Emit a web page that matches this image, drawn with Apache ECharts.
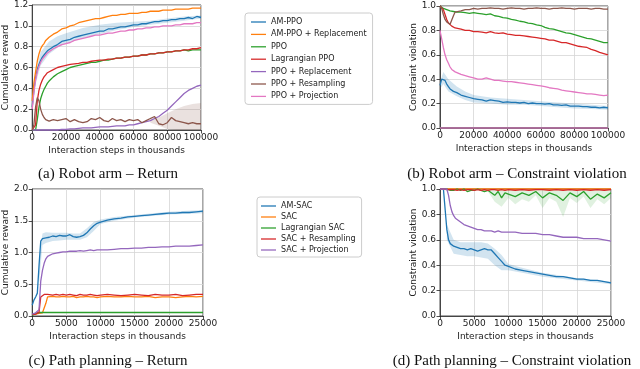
<!DOCTYPE html>
<html>
<head>
<meta charset="utf-8">
<script src="https://cdn.jsdelivr.net/npm/echarts@6/dist/echarts.min.js"></script>
<style>
  html, body { margin: 0; padding: 0; background: #fff; }
  #chart { width: 640px; height: 369px; }
</style>
</head>
<body>
<div id="chart"></div>
<script>
// Robot arm (PPO family): x in thousands of steps
const xsA = [0,1000,2000,3000,4000,5000,6000,7000,8000,9000,10000,12500,15000,17500,20000,22500,25000,27500,30000,32500,35000,37500,40000,42500,45000,47500,50000,52500,55000,57500,60000,62500,65000,67500,70000,72500,75000,77500,80000,82500,85000,87500,90000,92500,95000,97500,100000];
const flatXA = [0, 100000];

// (a) return
const armRetAmPpo     = [0.22,0.38,0.50,0.58,0.63,0.67,0.70,0.72,0.74,0.76,0.77,0.80,0.82,0.85,0.86,0.87,0.89,0.90,0.91,0.92,0.93,0.94,0.95,0.95,0.97,0.97,0.98,0.99,0.99,1.00,1.01,1.01,1.02,1.02,1.03,1.04,1.04,1.05,1.05,1.06,1.06,1.07,1.07,1.08,1.07,1.09,1.08];
const armRetAmPpoRepl = [0.28,0.45,0.56,0.66,0.73,0.78,0.81,0.83,0.86,0.87,0.89,0.92,0.94,0.97,0.98,1.00,1.01,1.03,1.04,1.05,1.06,1.07,1.07,1.08,1.09,1.10,1.10,1.11,1.11,1.12,1.12,1.12,1.13,1.13,1.14,1.14,1.14,1.15,1.15,1.15,1.16,1.16,1.16,1.16,1.17,1.17,1.17];
const armRetPpo       = [0,0,0,0.10,0.22,0.30,0.35,0.39,0.42,0.45,0.47,0.51,0.54,0.56,0.58,0.60,0.61,0.62,0.63,0.64,0.65,0.65,0.66,0.67,0.67,0.68,0.69,0.69,0.70,0.70,0.71,0.71,0.72,0.72,0.73,0.73,0.74,0.74,0.75,0.75,0.76,0.76,0.77,0.76,0.77,0.77,0.77];
const armRetLag       = [0,0,0.05,0.28,0.38,0.44,0.48,0.51,0.53,0.55,0.56,0.58,0.60,0.61,0.62,0.63,0.635,0.64,0.65,0.65,0.66,0.665,0.67,0.67,0.68,0.68,0.69,0.69,0.70,0.70,0.71,0.71,0.72,0.72,0.73,0.73,0.74,0.74,0.75,0.75,0.76,0.76,0.77,0.77,0.78,0.78,0.79];
const armRetRepl      = [0,0,0,0,0,0,0,0,0,0,0,0,0,0.005,0.005,0.01,0.01,0.015,0.02,0.02,0.02,0.025,0.03,0.03,0.03,0.035,0.04,0.04,0.04,0.05,0.05,0.06,0.07,0.08,0.09,0.11,0.13,0.16,0.19,0.23,0.27,0.31,0.35,0.38,0.40,0.42,0.43];
const armRetResamp    = [0,0.05,0.22,0.31,0.28,0.20,0.15,0.12,0.10,0.09,0.085,0.10,0.09,0.10,0.11,0.08,0.10,0.08,0.07,0.08,0.11,0.10,0.12,0.09,0.08,0.11,0.09,0.10,0.08,0.10,0.09,0.10,0.07,0.09,0.11,0.13,0.06,0.05,0.07,0.12,0.09,0.08,0.07,0.06,0.07,0.06,0.06];
const armRetProj      = [0.20,0.36,0.48,0.56,0.61,0.65,0.68,0.70,0.72,0.74,0.75,0.78,0.80,0.82,0.83,0.84,0.86,0.87,0.88,0.89,0.90,0.91,0.91,0.92,0.93,0.93,0.94,0.95,0.95,0.96,0.96,0.97,0.97,0.98,0.98,0.99,0.99,1.00,1.00,1.00,1.01,1.01,1.02,1.02,1.02,1.03,1.03];

const armRetBandX  = [2000,5000,10000,15000,20000,30000,40000,50000,60000,70000,80000,90000,100000];
const armRetBandLo = [0.44,0.62,0.73,0.79,0.83,0.88,0.92,0.96,0.99,1.01,1.03,1.05,1.07];
const armRetBandHi = [0.55,0.75,0.85,0.90,0.93,0.98,1.01,1.03,1.04,1.05,1.07,1.09,1.10];
const resampBandX  = [70000,75000,80000,85000,90000,95000,100000];
const resampBandLo = [0.07,0.04,0.01,0,0,0,0];
const resampBandHi = [0.12,0.12,0.16,0.20,0.23,0.25,0.26];

// (b) constraint violation
const armVioAmPpo   = [0.35,0.40,0.41,0.39,0.36,0.34,0.32,0.31,0.30,0.30,0.29,0.27,0.26,0.25,0.24,0.235,0.23,0.22,0.23,0.225,0.22,0.21,0.215,0.21,0.21,0.205,0.21,0.20,0.205,0.20,0.20,0.195,0.20,0.19,0.19,0.185,0.19,0.18,0.18,0.18,0.175,0.175,0.17,0.17,0.165,0.17,0.165];
const armVioZero    = [0, 0];
const armVioPpo     = [1.0,0.99,0.98,0.97,0.97,0.96,0.96,0.96,0.955,0.95,0.95,0.95,0.945,0.94,0.945,0.94,0.935,0.93,0.935,0.92,0.915,0.905,0.90,0.89,0.885,0.875,0.87,0.86,0.855,0.845,0.84,0.825,0.815,0.81,0.80,0.79,0.78,0.775,0.765,0.755,0.745,0.735,0.73,0.72,0.71,0.70,0.70];
const armVioLag     = [1.0,0.99,0.97,0.93,0.89,0.86,0.845,0.835,0.83,0.82,0.82,0.81,0.80,0.80,0.79,0.79,0.785,0.78,0.79,0.78,0.775,0.78,0.77,0.765,0.76,0.76,0.755,0.75,0.745,0.74,0.735,0.73,0.72,0.72,0.71,0.70,0.70,0.69,0.68,0.67,0.665,0.66,0.645,0.635,0.62,0.61,0.60];
const armVioResamp  = [1.0,0.98,0.93,0.89,0.87,0.86,0.85,0.86,0.92,0.95,0.96,0.96,0.97,0.97,0.98,0.975,0.98,0.98,0.985,0.98,0.98,0.975,0.98,0.985,0.98,0.98,0.975,0.98,0.98,0.985,0.98,0.98,0.975,0.98,0.98,0.985,0.98,0.98,0.975,0.98,0.98,0.98,0.975,0.98,0.98,0.975,0.975];
const armVioProj    = [0.80,0.73,0.66,0.60,0.56,0.53,0.50,0.48,0.47,0.46,0.46,0.44,0.43,0.42,0.41,0.40,0.40,0.41,0.40,0.39,0.39,0.385,0.38,0.38,0.375,0.37,0.365,0.36,0.355,0.35,0.345,0.34,0.33,0.325,0.32,0.31,0.305,0.30,0.295,0.29,0.285,0.28,0.28,0.275,0.27,0.265,0.27];

const armVioBandX  = [0,2000,5000,10000,15000,20000,30000,40000,50000,60000,70000,80000,90000,100000];
const armVioBandLo = [0.32,0.36,0.30,0.26,0.23,0.21,0.20,0.19,0.19,0.18,0.17,0.16,0.155,0.15];
const armVioBandHi = [0.38,0.46,0.40,0.34,0.30,0.27,0.25,0.24,0.23,0.22,0.21,0.20,0.19,0.18];

// Path planning (SAC family)
const xsC = [0,250,500,750,1000,1250,1500,1750,2000,2250,2500,3000,3500,4000,4500,5000,5500,6000,6500,7000,7500,8000,8500,9000,9500,10000,11000,12000,13000,14000,15000,16000,17000,18000,19000,20000,21000,22000,23000,24000,25000];
const flatXC = [0, 25000];

// (c) return
const pathRetAmSac  = [0.17,0.25,0.30,0.36,0.80,1.18,1.22,1.22,1.23,1.25,1.24,1.26,1.25,1.27,1.26,1.26,1.28,1.25,1.24,1.25,1.27,1.31,1.37,1.42,1.46,1.48,1.51,1.53,1.54,1.56,1.57,1.58,1.59,1.60,1.61,1.62,1.62,1.63,1.63,1.64,1.65];
const pathRetSac    = [0.02,0.03,0.03,0.04,0.04,0.05,0.05,0.05,0.20,0.30,0.30,0.31,0.30,0.30,0.31,0.30,0.30,0.31,0.29,0.30,0.30,0.31,0.30,0.30,0.29,0.30,0.31,0.30,0.30,0.31,0.30,0.30,0.31,0.29,0.30,0.30,0.29,0.30,0.31,0.30,0.31];
const pathRetLag    = [0.01,0.02,0.04,0.05,0.055,0.055,0.055,0.055,0.055,0.055,0.055,0.055,0.055,0.055,0.055,0.055,0.055,0.055,0.055,0.055,0.055,0.055,0.055,0.055,0.055,0.055,0.055,0.055,0.055,0.055,0.055,0.055,0.055,0.055,0.055,0.055,0.055,0.055,0.055,0.055,0.055];
const pathRetResamp = [0.02,0.03,0.03,0.04,0.06,0.30,0.33,0.34,0.33,0.34,0.34,0.33,0.34,0.33,0.34,0.33,0.34,0.33,0.32,0.34,0.33,0.33,0.34,0.33,0.32,0.33,0.34,0.33,0.32,0.33,0.34,0.33,0.32,0.34,0.33,0.33,0.34,0.32,0.33,0.34,0.34];
const pathRetProj   = [0.03,0.04,0.05,0.06,0.10,0.55,0.72,0.83,0.90,0.94,0.96,0.98,0.99,1.00,1.01,1.01,1.02,1.02,1.02,1.03,1.02,1.03,1.04,1.03,1.04,1.04,1.04,1.05,1.06,1.06,1.07,1.07,1.08,1.08,1.09,1.09,1.10,1.10,1.10,1.11,1.12];

const pathRetBandX  = [1000,1500,2000,3000,4000,5000,6000,7000,8000,9000,10000,12000,15000,20000,25000];
const pathRetBandLo = [0.50,1.12,1.15,1.18,1.19,1.20,1.20,1.20,1.24,1.34,1.45,1.50,1.55,1.60,1.62];
const pathRetBandHi = [0.90,1.30,1.32,1.31,1.31,1.31,1.30,1.30,1.38,1.48,1.52,1.56,1.59,1.64,1.67];

// (d) constraint violation
const pathVioAmSac  = [1.0,1.0,1.0,0.99,0.68,0.60,0.57,0.56,0.55,0.54,0.54,0.53,0.53,0.52,0.53,0.52,0.51,0.52,0.53,0.52,0.52,0.49,0.46,0.43,0.40,0.39,0.37,0.36,0.35,0.34,0.33,0.32,0.31,0.31,0.30,0.29,0.29,0.28,0.28,0.27,0.26];
const pathVioSac    = [1.0, 1.0];
const pathVioLag    = [1.0,1.0,1.0,1.0,1.0,1.0,0.99,1.0,0.99,1.0,1.0,0.99,1.0,0.98,0.99,0.99,1.0,0.99,0.98,0.99,0.97,0.95,0.98,0.93,0.97,0.96,0.94,0.97,0.95,0.98,0.93,0.97,0.95,0.91,0.97,0.94,0.98,0.92,0.96,0.93,0.97];
const pathVioResamp = [1.0,1.0,1.0,0.995,0.995,0.99,0.995,0.99,0.995,0.995,0.99,0.995,0.99,0.995,0.995,0.99,0.995,0.99,0.995,0.99,0.995,0.995,0.99,0.995,0.99,0.995,0.99,0.995,0.99,0.995,0.995,0.99,0.995,0.99,0.995,0.99,0.995,0.99,0.995,0.99,0.995];
const pathVioProj   = [1.0,1.0,1.0,1.0,1.0,0.95,0.87,0.82,0.79,0.77,0.76,0.74,0.72,0.71,0.70,0.69,0.68,0.68,0.67,0.67,0.67,0.66,0.67,0.66,0.66,0.66,0.66,0.65,0.65,0.65,0.64,0.64,0.63,0.62,0.62,0.62,0.61,0.61,0.61,0.60,0.59];

const pathVioBandX  = [1000,2000,3000,4000,5000,6000,7000,8000,9000,10000,12000,15000,20000,25000];
const pathVioBandLo = [0.60,0.49,0.48,0.47,0.47,0.46,0.45,0.40,0.36,0.36,0.34,0.31,0.28,0.25];
const pathVioBandHi = [0.72,0.60,0.58,0.58,0.58,0.58,0.57,0.53,0.48,0.41,0.38,0.34,0.30,0.27];
const lagBandX  = [7000,8000,9000,10000,11000,12000,13000,14000,15000,16000,17000,18000,19000,20000,21000,22000,23000,24000,25000];
const lagBandLo = [0.98,0.90,0.86,0.93,0.88,0.92,0.90,0.95,0.85,0.93,0.90,0.78,0.93,0.89,0.94,0.85,0.92,0.88,0.93];
const lagBandHi = [1,1,1,1,1,1,1,1,1,1,1,1,1,1,1,1,1,1,1];

const namesPpo = ['AM-PPO', 'AM-PPO + Replacement', 'PPO', 'Lagrangian PPO', 'PPO + Replacement', 'PPO + Resampling', 'PPO + Projection'];
const namesSac = ['AM-SAC', 'SAC', 'Lagrangian SAC', 'SAC + Resampling', 'SAC + Projection'];

// matplotlib tab10
const BLUE = '#1f77b4', ORANGE = '#ff7f0e', GREEN = '#2ca02c', RED = '#d62728',
      PURPLE = '#9467bd', BROWN = '#8c564b', PINK = '#e377c2';

const FONT = 'DejaVu Sans';
const INK = '#222';

function pairs(xs, ys) {
  return xs.map((x, i) => [x, ys[i]]);
}

function line(name, xs, ys, color, g) {
  return {
    name, type: 'line', xAxisIndex: g, yAxisIndex: g,
    data: pairs(xs, ys), symbol: 'none', showSymbol: false, clip: false, silent: true,
    lineStyle: { color, width: 1.3 }, itemStyle: { color }
  };
}

// shaded spread between lo and hi, drawn as a polygon through the axis scales
function band(xs, lo, hi, color, g, alpha) {
  return {
    type: 'custom', xAxisIndex: g, yAxisIndex: g, silent: true, clip: true,
    data: [[xs[0], lo[0]]],
    renderItem: (params, api) => {
      const top = xs.map((x, i) => api.coord([x, hi[i]]));
      const bot = xs.map((x, i) => api.coord([x, lo[i]])).reverse();
      return { type: 'polygon', shape: { points: top.concat(bot) },
               style: { fill: color, opacity: alpha } };
    }
  };
}

function xAx(g, max, step) {
  return {
    type: 'value', gridIndex: g, min: 0, max, interval: step,
    name: 'Interaction steps in thousands', nameLocation: 'middle', nameGap: 16,
    nameTextStyle: { fontSize: 9, fontFamily: FONT, color: INK },
    axisLine: { show: true, onZero: false, lineStyle: { color: INK, width: 0.8 } },
    axisTick: { show: true, length: 3.5, lineStyle: { color: INK, width: 0.8 } },
    axisLabel: { fontSize: 9, fontFamily: FONT, color: INK, margin: 3, formatter: v => String(v) },
    splitLine: { show: true, lineStyle: { color: '#d6d6d6', width: 0.8 } }
  };
}

function yAx(g, max, step, name) {
  return {
    type: 'value', gridIndex: g, min: 0, max, interval: step,
    name, nameLocation: 'middle', nameGap: 22,
    nameTextStyle: { fontSize: 9, fontFamily: FONT, color: INK },
    axisLine: { show: true, lineStyle: { color: INK, width: 0.8 } },
    axisTick: { show: true, length: 3.5, lineStyle: { color: INK, width: 0.8 } },
    axisLabel: { fontSize: 9, fontFamily: FONT, color: INK, margin: 4, formatter: v => v.toFixed(1) },
    splitLine: { show: true, lineStyle: { color: '#d6d6d6', width: 0.8 } }
  };
}

function legendBox(names, left, top, padding, gap) {
  return {
    data: names, orient: 'vertical', left, top, padding,
    icon: 'path://M0,0L20,0L20,1.7L0,1.7Z',
    itemWidth: 15, itemHeight: 10, itemGap: gap, selectedMode: false,
    backgroundColor: '#fff', borderColor: '#cccccc', borderWidth: 1, borderRadius: 3,
    textStyle: { fontSize: 8, fontFamily: FONT, color: INK }
  };
}

function caption(text, x, y) {
  return { type: 'text', x, y, silent: true,
    style: { text, fontSize: 15, fontFamily: 'Liberation Serif', fill: '#111',
             align: 'center', verticalAlign: 'middle' } };
}

const gridStyle = { show: true, borderColor: INK, borderWidth: 0.8 };

const series = [
  // (a)
  band(armRetBandX, armRetBandLo, armRetBandHi, BLUE, 0, 0.2),
  band(resampBandX, resampBandLo, resampBandHi, BROWN, 0, 0.18),
  line('AM-PPO', xsA, armRetAmPpo, BLUE, 0),
  line('AM-PPO + Replacement', xsA, armRetAmPpoRepl, ORANGE, 0),
  line('PPO', xsA, armRetPpo, GREEN, 0),
  line('Lagrangian PPO', xsA, armRetLag, RED, 0),
  line('PPO + Replacement', xsA, armRetRepl, PURPLE, 0),
  line('PPO + Resampling', xsA, armRetResamp, BROWN, 0),
  line('PPO + Projection', xsA, armRetProj, PINK, 0),
  // (b)
  band(armVioBandX, armVioBandLo, armVioBandHi, BLUE, 1, 0.2),
  line('AM-PPO', xsA, armVioAmPpo, BLUE, 1),
  line('AM-PPO + Replacement', flatXA, armVioZero, ORANGE, 1),
  line('PPO', xsA, armVioPpo, GREEN, 1),
  line('Lagrangian PPO', xsA, armVioLag, RED, 1),
  line('PPO + Replacement', flatXA, armVioZero, PURPLE, 1),
  line('PPO + Resampling', xsA, armVioResamp, BROWN, 1),
  line('PPO + Projection', xsA, armVioProj, PINK, 1),
  // (c)
  band(pathRetBandX, pathRetBandLo, pathRetBandHi, BLUE, 2, 0.2),
  line('AM-SAC', xsC, pathRetAmSac, BLUE, 2),
  line('SAC', xsC, pathRetSac, ORANGE, 2),
  line('Lagrangian SAC', xsC, pathRetLag, GREEN, 2),
  line('SAC + Resampling', xsC, pathRetResamp, RED, 2),
  line('SAC + Projection', xsC, pathRetProj, PURPLE, 2),
  // (d)
  band(pathVioBandX, pathVioBandLo, pathVioBandHi, BLUE, 3, 0.2),
  band(lagBandX, lagBandLo, lagBandHi, GREEN, 3, 0.15),
  line('AM-SAC', xsC, pathVioAmSac, BLUE, 3),
  line('SAC', flatXC, pathVioSac, ORANGE, 3),
  line('Lagrangian SAC', xsC, pathVioLag, GREEN, 3),
  line('SAC + Resampling', xsC, pathVioResamp, RED, 3),
  line('SAC + Projection', xsC, pathVioProj, PURPLE, 3)
];

const chart = echarts.init(document.getElementById('chart'), null, { renderer: 'canvas' });
chart.setOption({
  animation: false,
  backgroundColor: '#fff',
  grid: [
    { left: 32, top: 5, width: 169, height: 125, ...gridStyle },
    { left: 440, top: 6, width: 168, height: 122, ...gridStyle },
    { left: 32, top: 189, width: 171, height: 127, ...gridStyle },
    { left: 440, top: 189, width: 171, height: 127, ...gridStyle }
  ],
  xAxis: [xAx(0, 100000, 20000), xAx(1, 100000, 20000), xAx(2, 25000, 5000), xAx(3, 25000, 5000)],
  yAxis: [
    yAx(0, 1.2, 0.2, 'Cumulative reward'),
    yAx(1, 1.0, 0.2, 'Constraint violation'),
    yAx(2, 2.0, 0.5, 'Cumulative reward'),
    yAx(3, 1.0, 0.2, 'Constraint violation')
  ],
  legend: [
    legendBox(namesPpo, 245, 13, [5, 6, 4, 6], 4.4),
    legendBox(namesSac, 257, 197, [5, 6, 3, 4], 3)
  ],
  graphic: [
    caption('(a) Robot arm – Return', 108, 174),
    caption('(b) Robot arm – Constraint violation', 517, 174),
    caption('(c) Path planning – Return', 108, 361),
    caption('(d) Path planning – Constraint violation', 512, 361)
  ],
  series
});
</script>
</body>
</html>
